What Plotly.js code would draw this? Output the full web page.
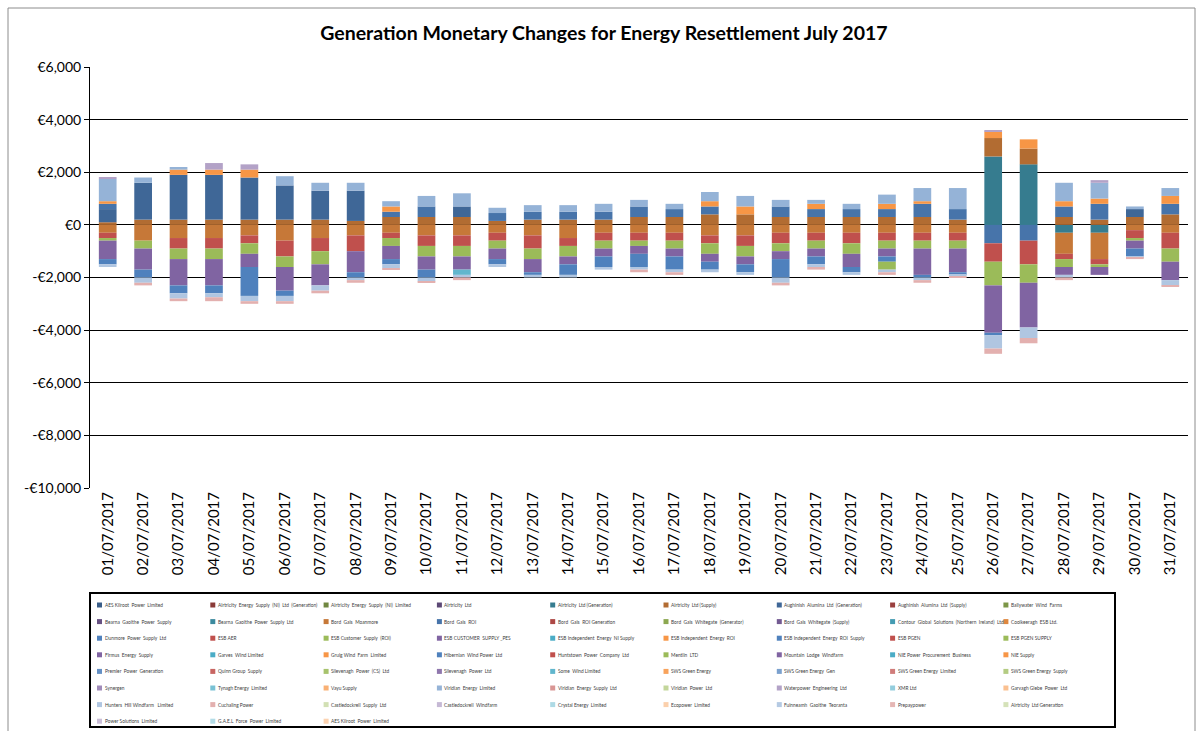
<!DOCTYPE html>
<html>
<head>
<meta charset="utf-8">
<script src="https://cdn.plot.ly/plotly-3.0.1.min.js"></script>
<style>
  html, body { margin: 0; padding: 0; background: #fff; }
  #chart { width: 1203px; height: 731px; }
</style>
</head>
<body>
<div id="chart"></div>
<script>
// settlement days
var days = ['01/07/2017','02/07/2017','03/07/2017','04/07/2017','05/07/2017','06/07/2017','07/07/2017',
  '08/07/2017','09/07/2017','10/07/2017','11/07/2017','12/07/2017','13/07/2017','14/07/2017','15/07/2017',
  '16/07/2017','17/07/2017','18/07/2017','19/07/2017','20/07/2017','21/07/2017','22/07/2017','23/07/2017',
  '24/07/2017','25/07/2017','26/07/2017','27/07/2017','28/07/2017','29/07/2017','30/07/2017','31/07/2017'];

// every participant, in legend order
var participants = [
  'AES Kilroot  Power  Limited', 'Airtricity  Energy  Supply  (NI)  Ltd  (Generation)', 'Airtricity  Energy  Supply  (NI)  Limited',
  'Airtricity  Ltd', 'Airtricity  Ltd (Generation)', 'Airtricity  Ltd (Supply)',
  'Aughinish  Alumina  Ltd  (Generation)', 'Aughinish  Alumina  Ltd  (Supply)', 'Ballywater  Wind  Farms',
  'Bearna  Gaoithe  Power  Supply', 'Bearna  Gaoithe  Power  Supply  Ltd', 'Bord  Gais  Moanmore',
  'Bord  Gais  ROI', 'Bord  Gais  ROI Generation', 'Bord  Gais  Whitegate  (Generator)',
  'Bord  Gais  Whitegate  (Supply)', 'Contour  Global  Solutions  (Northern  Ireland)  Ltd', 'Coolkeeragh  ESB Ltd.',
  'Dunmore  Power  Supply  Ltd', 'ESB AER', 'ESB Customer  Supply  (ROI)',
  'ESB CUSTOMER  SUPPLY _PES', 'ESB Independent  Energy  NI Supply', 'ESB Independent  Energy  ROI',
  'ESB Independent  Energy  ROI  Supply', 'ESB PGEN', 'ESB PGEN SUPPLY',
  'Firmus  Energy  Supply', 'Garves  Wind Limited', 'Gruig Wind  Farm  Limited',
  'Hibernian  Wind Power  Ltd', 'Huntstown  Power  Company  Ltd', 'Mentlin  LTD',
  'Mountain  Lodge  Windfarm', 'NIE Power  Procurement  Business', 'NIE Supply',
  'Premier  Power  Generation', 'Quinn Group  Supply', 'Slievenagh  Power  (CS)  Ltd',
  'Slievenagh  Power  Ltd', 'Some  Wind Limited', 'SWS Green Energy',
  'SWS Green Energy  Gen', 'SWS Green Energy  Limited', 'SWS Green Energy  Supply',
  'Synergen', 'Tynagh Energy  Limited', 'Vayu Supply',
  'Viridian  Energy  Limited', 'Viridian  Energy  Supply  Ltd', 'Viridian  Power  Ltd',
  'Waterpower  Engineering  Ltd', 'XMR Ltd', 'Garvagh Glebe  Power  Ltd',
  'Hunters  Hill Windfarm   Limited', 'Cuchaling Power', 'Castledockrell  Supply  Ltd',
  'Castledockrell  Windfarm', 'Crystal Energy  Limited', 'Ecopower  Limited',
  'Fuinneamh  Gaoithe  Teoranta', 'Prepaypower', 'Airtricity  Ltd Generation',
  'Power Solutions  Limited', 'G.A.E.L  Force  Power  Limited', 'AES Kilroot  Power  Limited'
];

// monetary change per day (EUR)
var airtricityGen    = [0,0,0,0,0,0,0,0,0,0,0,0,0,0,0,0,0,0,0,0,0,0,0,0,0,2600,2300,-300,-300,0,0];
var airtricitySupply = [100,200,200,200,200,200,200,150,300,300,300,150,200,200,200,300,300,400,400,300,300,300,300,300,200,700,600,300,200,300,400];
var aughinishGen     = [500,1400,1700,1700,1600,1300,1100,1150,0,0,400,0,0,0,0,0,0,0,0,0,0,0,0,0,0,0,0,0,0,300,0];
var bordGaisMoanmore = [-300,-600,-500,-500,-400,-600,-500,-400,-300,-400,-400,-300,-400,-500,-300,-300,-300,-400,-400,-300,-300,-300,-300,-300,-300,0,0,-800,-1000,-200,-300];
var bordGaisRoi      = [200,0,0,0,0,0,0,0,200,400,0,300,300,300,300,400,300,300,0,400,300,300,300,500,400,-700,-600,400,600,0,400];
var esbAer           = [-200,0,-400,-400,-300,-600,-500,-600,-200,-400,-400,-300,-500,-300,-300,-300,-300,-300,-400,-400,-300,-400,-300,-300,-300,-700,-900,-200,-200,-300,-600];
var esbCustomerRoi   = [-100,-300,-400,-400,-400,-400,-500,0,-300,-400,-400,-300,-400,-400,-300,-200,-300,-400,-400,-300,-300,-400,-300,-300,-300,-900,-700,-300,-100,-100,-500];
var esbPes           = [-700,-800,-1000,-1000,-500,-900,-800,-800,-500,-500,-500,-400,-500,-300,-300,-300,-300,-300,-300,-300,-300,-500,-300,-1000,-900,-1800,-1700,-300,-300,-300,-700];
var esbIndepRoi      = [100,0,200,200,300,0,0,0,200,0,0,0,0,0,0,0,0,200,300,0,200,0,200,100,0,250,350,200,200,0,300];
var esbIndepRoiSup   = [-200,-300,-300,-300,-1100,-200,0,-200,-200,-300,0,-200,-100,-400,-400,-500,-500,-300,-300,-700,-300,-200,-200,-100,-100,-100,0,0,0,-300,0];
var esbPgenSupply    = [0,0,0,0,0,0,0,0,0,0,0,0,0,0,0,0,0,0,0,0,0,0,-300,0,0,0,0,0,0,0,0];
var someWind         = [0,0,0,0,0,0,0,0,0,0,-200,0,0,0,0,0,0,0,0,0,0,0,0,0,0,0,0,0,0,0,0];
var viridianEnergy   = [850,200,100,0,0,350,300,300,200,400,500,200,250,250,300,250,200,350,400,250,150,200,350,500,800,0,0,700,600,100,300];
var waterpower       = [50,0,0,250,200,0,0,0,0,0,0,0,0,0,0,0,0,0,0,0,0,0,0,0,0,50,0,0,100,0,0];
var huntersHill      = [-100,-200,-200,-150,-200,-200,-200,-100,-150,-150,-100,-100,-100,-100,-100,-100,-100,-100,-100,-200,-100,-100,-100,-100,-50,-500,-400,-100,0,-50,-200];
var cuchaling        = [0,-100,-100,-150,-100,-100,-100,-100,-50,-50,-100,0,0,0,0,-100,-100,0,0,-100,-100,0,-100,-100,-50,-200,-200,-100,0,-50,-50];

var seriesData = [
  [4, airtricityGen], [5, airtricitySupply], [6, aughinishGen], [11, bordGaisMoanmore],
  [12, bordGaisRoi], [19, esbAer], [20, esbCustomerRoi], [21, esbPes], [23, esbIndepRoi],
  [24, esbIndepRoiSup], [26, esbPgenSupply], [40, someWind], [48, viridianEnergy],
  [51, waterpower], [54, huntersHill], [55, cuchaling]
];

var yTickVals = [-10000, -8000, -6000, -4000, -2000, 0, 2000, 4000, 6000];
var yTickText = ['-€10,000', '-€8,000', '-€6,000', '-€4,000', '-€2,000', '€0', '€2,000', '€4,000', '€6,000'];

// office palette, cycled with darker then lighter variants
var accents = [[79,129,189],[192,80,77],[155,187,89],[128,100,162],[75,172,198],[247,150,70]];
var levels = [0.72, 0.8, 0.9, 1, 1, 1, 0.12, 0.25, 0.4, 0.55, 0.58];
function seriesColor(i) {
  var c = accents[i % 6], lv = levels[Math.floor(i / 6)];
  var rgb = c.map(function (v) {
    return Math.round(lv <= 1 && lv >= 0.7 ? v * lv : v + (255 - v) * lv);
  });
  return 'rgb(' + rgb.join(',') + ')';
}

var traces = seriesData.map(function (s) {
  return {
    type: 'bar',
    name: participants[s[0]],
    x: days,
    y: s[1],
    marker: { color: seriesColor(s[0]), line: { width: 0 } },
    showlegend: false
  };
});

// plot area in pixels: x 90..1188, y 67..488
function px(x) { return (x - 90) / 1098; }
function py(y) { return (488 - y) / 421; }

var shapes = [
  { type: 'rect', xref: 'paper', yref: 'paper', x0: px(8), x1: px(1195), y0: py(740), y1: py(8),
    line: { color: '#8c8c8c', width: 1 } },
  { type: 'rect', xref: 'paper', yref: 'paper', x0: px(90), x1: px(1115), y0: py(727), y1: py(593),
    line: { color: '#000', width: 2 } }
];
var annotations = [];
participants.forEach(function (name, i) {
  var col = i % 9, row = Math.floor(i / 9);
  var sx = 97 + col * 113.3, sy = 605 + row * 16.6;
  shapes.push({ type: 'rect', xref: 'paper', yref: 'paper',
    x0: px(sx), x1: px(sx + 5), y0: py(sy + 2.5), y1: py(sy - 2.5),
    fillcolor: seriesColor(i), line: { width: 0 } });
  annotations.push({ xref: 'paper', yref: 'paper', x: px(sx + 5.5), y: py(sy),
    xanchor: 'left', yanchor: 'middle', showarrow: false, text: name,
    font: { family: 'Lato, sans-serif', size: 4.8, color: '#404040' } });
});

var layout = {
  width: 1203,
  height: 731,
  margin: { l: 90, r: 15, t: 67, b: 243 },
  paper_bgcolor: '#fff',
  plot_bgcolor: '#fff',
  barmode: 'relative',
  bargap: 0.5,
  font: { family: 'Lato, "Liberation Sans", sans-serif', color: '#000' },
  title: {
    text: '<b>Generation Monetary Changes for Energy Resettlement July 2017</b>',
    font: { size: 19.5, color: '#000' },
    x: 0.502, y: 0.955, yanchor: 'middle'
  },
  xaxis: {
    type: 'category',
    tickangle: -90,
    tickfont: { size: 15 },
    showgrid: false,
    zeroline: false,
    showline: false,
    ticks: ''
  },
  yaxis: {
    range: [-10000, 6000],
    tickvals: yTickVals,
    ticktext: yTickText,
    tickfont: { size: 14 },
    showgrid: true,
    gridcolor: '#000',
    gridwidth: 1,
    zeroline: true,
    zerolinecolor: '#000',
    zerolinewidth: 1,
    showline: true,
    linecolor: '#000',
    ticks: 'outside',
    ticklen: 5,
    tickcolor: '#000'
  },
  shapes: shapes,
  annotations: annotations
};

Plotly.newPlot('chart', traces, layout, { displayModeBar: false });
</script>
</body>
</html>
